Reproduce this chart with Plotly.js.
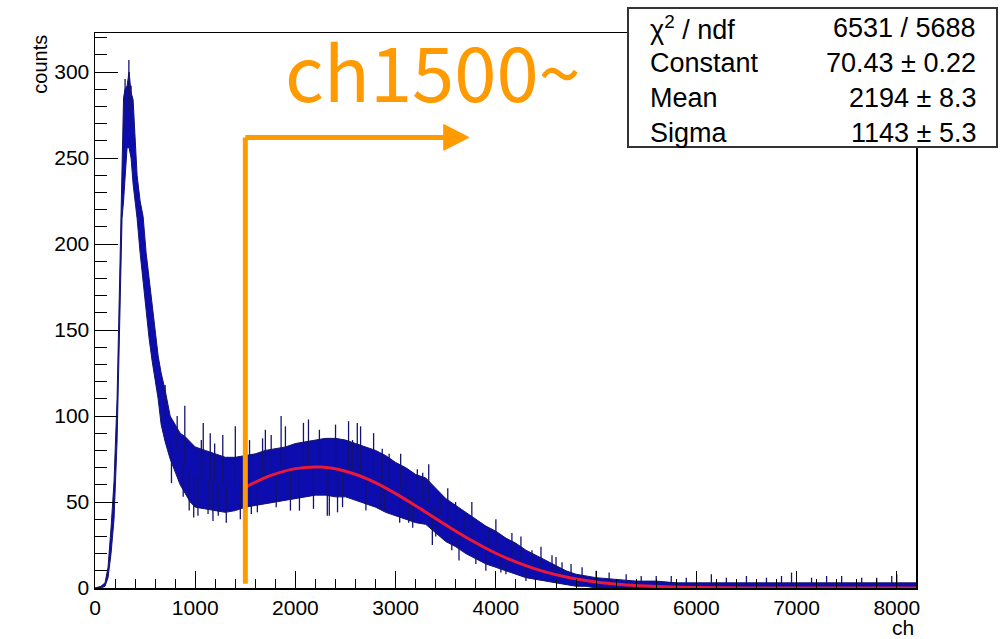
<!DOCTYPE html>
<html>
<head>
<meta charset="utf-8">
<script src="https://cdn.plot.ly/plotly-3.0.1.min.js"></script>
<style>html,body{margin:0;padding:0;background:#fff;}#plot{width:1001px;height:639px;}</style>
</head>
<body>
<div id="plot"></div>
<script>
// ---- Histogram envelope (channel, lower edge, upper edge of the noisy band) ----
var envCh = [0,60,100,130,160,190,220,240,255,270,285,300,320,340,360,380,400,420,450,480,510,540,570,600,630,660,700,750,800,850,900,950,1000,1100,1200,1300,1400,1500,1600,1700,1800,1900,2000,2100,2200,2300,2400,2500,2600,2700,2800,2900,3000,3100,3200,3300,3400,3500,3600,3700,3800,3900,4000,4100,4200,4300,4400,4500,4600,4700,4800,4900,5000,5200,5400,5600,5800,6000,6500,7000,7500,8000,8192];
var envLo = [0,0,1,6,20,40,85,140,185,215,225,240,256,256,250,235,225,215,195,177,160,145,132,122,110,95,85,75,67,60,55,50,47,46,45,44,45,47,48,49,50,51,52,53,54,54,53,53,51,49,47,44,42,40,38,37,32,27,24,20,17,14,12,10,8,6,5,4,3,2,1,1,0,0,0,0,0,0,0,0,0,0,0];
var envHi = [0,1,3,12,35,62,110,170,210,240,285,290,292,300,288,284,265,240,225,216,195,180,165,150,135,125,115,100,95,90,88,85,82,80,78,76,76,77,78,80,81,82,84,85,86,87,87,86,84,82,80,77,73,70,66,64,58,52,48,44,40,36,33,29,26,22,19,16,13,10,8,7,6,5,4,4,3,3,3,3,3,3,3];

// ---- Individual spikes (channel, tip value) ----
var spikeCh  = [300,338,360,700,763,820,880,896,940,985,1027,1061,1080,1128,1150,1177,1194,1230,1275,1310,1400,1450,1542,1560,1620,1672,1700,1758,1808,1857,1900,1950,2040,2080,2130,2180,2239,2318,2338,2400,2420,2470,2530,2570,2617,2650,2703,2780,2853,2866,2890,2935,3040,3050,3101,3130,3170,3216,3270,3330,3366,3400,3449,3520,3560,3598,3632,3682,3760,3800,3900,3930,4000,4050,4100,4160,4250,4300,4360,4450,4560,4600,4660,4750,4860,5000,5130,5300,5450,5600,5750,5900,6150,6300,6500,6700,6850,6950,7150,7300,7450,7650,7800,7950,8000];
var spikeVal = [296,307,292,118,61,100,53,106,45,41,42,86,96,43,90,39,84,42,89,38,94,40,86,43,44,87,92,89,47,100,94,45,45,96,98,46,92,42,42,95,44,47,97,86,96,94,45,90,46,81,45,78,38,78,66,38,35,69,67,72,25,30,53,58,22,50,16,43,50,14,10,34,40,9,8,32,30,4,22,24,19,18,15,14,12,10,9,8,7,7,7,6,8,6,7,6,7,9,6,7,7,6,6,7,8];

// ---- Gaussian fit curve values ----
var fitCh  = [1500,1750,2000,2250,2500,2750,3000,3250,3500,3750,4000,4250,4500,4750,5000,5250,5500,5750,6000,6500,7000,8192];
var fitVal = [58.6,65.3,69.4,70.3,67.9,62.6,54.9,46.0,36.7,27.9,20.2,14.0,9.2,5.8,3.5,2.0,1.1,0.56,0.27,0.05,0.01,0];

// ---- Text ----
var statsLabels = ["χ<sup>2</sup> / ndf","Constant","Mean","Sigma"];
var statsValues = ["6531 / 5688","70.43 ± 0.22","2194 ± 8.3","1143 ± 5.3"];
var xTickVals = [0,1000,2000,3000,4000,5000,6000,7000,8000];
var yTickVals = [0,50,100,150,200,250,300];
var noteText = "ch1500~";

function interp(xs, ys, x){
  for (var i=0;i<xs.length-1;i++){
    if (x>=xs[i] && x<=xs[i+1]){ var t=(x-xs[i])/(xs[i+1]-xs[i]); return ys[i]+t*(ys[i+1]-ys[i]); }
  }
  return ys[ys.length-1];
}
var sx=[], sy=[];
for (var i=0;i<spikeCh.length;i++){
  var mid = (interp(envCh,envLo,spikeCh[i])+interp(envCh,envHi,spikeCh[i]))/2;
  sx.push(spikeCh[i],spikeCh[i],null); sy.push(mid,spikeVal[i],null);
}

var navy='rgb(20,20,110)', blue='rgb(12,12,175)';
var traces = [
  {x:envCh, y:envLo, mode:'lines', line:{color:navy,width:1}, hoverinfo:'skip', showlegend:false},
  {x:envCh, y:envHi, mode:'lines', fill:'tonexty', fillcolor:blue, line:{color:navy,width:1}, hoverinfo:'skip', showlegend:false},
  {x:sx, y:sy, mode:'lines', line:{color:navy,width:1.3}, hoverinfo:'skip', showlegend:false},
  {x:fitCh, y:fitVal, mode:'lines', line:{color:'rgb(235,25,55)',width:3,shape:'spline'}, hoverinfo:'skip', showlegend:false}
];

var orange='#FF9A00';
var annotations = [
  {xref:'paper',yref:'paper',x:-0.068,y:1.0,xanchor:'center',yanchor:'top',text:'counts',textangle:-90,showarrow:false,font:{family:'Liberation Sans, Arial, sans-serif',size:20,color:'#000'}},
  {xref:'paper',yref:'paper',x:1.0,y:-0.072,xanchor:'right',yanchor:'middle',text:'ch',showarrow:false,font:{family:'Liberation Sans, Arial, sans-serif',size:21,color:'#000'}},
  {xref:'x',yref:'y',x:1876,y:302,xanchor:'left',yanchor:'middle',text:noteText,showarrow:false,font:{family:'Noto Sans CJK JP, Noto Sans, sans-serif',size:76,color:orange}}
];
// stats box rows
var rowY = [28,63,98,133];
for (var r=0;r<statsLabels.length;r++){
  var yp = 1 - (rowY[r]-33)/555;
  annotations.push({xref:'paper',yref:'paper',x:(648-95)/821,y:yp,xanchor:'left',yanchor:'middle',text:statsLabels[r],showarrow:false,font:{family:'Liberation Sans, Arial, sans-serif',size:27,color:'#000'}});
  annotations.push({xref:'paper',yref:'paper',x:(978-95)/821,y:yp,xanchor:'right',yanchor:'middle',text:statsValues[r],showarrow:false,font:{family:'Liberation Sans, Arial, sans-serif',size:27,color:'#000'}});
}

var shapes = [
  {type:'rect',xref:'paper',yref:'paper',x0:(628-95)/821,x1:(997-95)/821,y0:1-(147-33)/555,y1:1-(8-33)/555,line:{color:'#333',width:2},fillcolor:'#fff',layer:'above'},
  {type:'line',xref:'x',yref:'y',x0:1500,x1:1500,y0:2.5,y1:262,line:{color:orange,width:5},layer:'above'},
  {type:'line',xref:'x',yref:'y',x0:1500,x1:3500,y0:262,y1:262,line:{color:orange,width:5},layer:'above'},
  {type:'path',xref:'x',yref:'y',path:'M 3480 269.5 L 3731 262 L 3480 254.5 Z',fillcolor:orange,line:{color:orange,width:1},layer:'above'}
];

var axFont = {family:'Liberation Sans, Arial, sans-serif',size:21,color:'#000'};
var layout = {
  width:1001, height:639,
  margin:{l:95,r:85,t:33,b:51,pad:0},
  paper_bgcolor:'#fff', plot_bgcolor:'#fff',
  showlegend:false,
  xaxis:{range:[0,8192],tickvals:xTickVals,ticks:'inside',ticklen:17,tickwidth:1,tickcolor:'#000',
         minor:{dtick:200,tick0:0,ticks:'inside',ticklen:9,tickcolor:'#000',tickwidth:1,showgrid:false},
         showgrid:false,zeroline:false,showline:true,mirror:true,linecolor:'#000',linewidth:1.5,tickfont:axFont},
  yaxis:{range:[0,322.7],tickvals:yTickVals,ticks:'inside',ticklen:23,tickwidth:1,tickcolor:'#000',
         minor:{dtick:10,tick0:0,ticks:'inside',ticklen:12,tickcolor:'#000',tickwidth:1,showgrid:false},
         showgrid:false,zeroline:false,showline:true,mirror:true,linecolor:'#000',linewidth:1.5,tickfont:axFont},
  annotations:annotations,
  shapes:shapes
};
Plotly.newPlot('plot', traces, layout, {staticPlot:true, displayModeBar:false});
</script>
</body>
</html>
